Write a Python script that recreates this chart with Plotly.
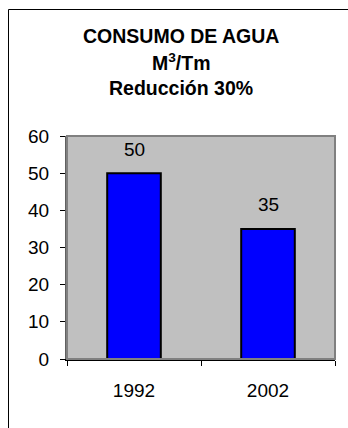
import plotly.graph_objects as go

categories = ["1992", "2002"]
values = [50, 35]
y_ticks = [0, 10, 20, 30, 40, 50, 60]
title_lines = ["<b>CONSUMO DE AGUA</b>", "<b>M<sup>3</sup>/Tm</b>", "<b>Reducción 30%</b>"]

FONT = "Arial, Liberation Sans, sans-serif"

W, H = 348, 428
L, R, T, B = 67, 335, 136, 359
pw, ph = R - L, B - T


def px_x(x):
    return (x - L) / pw


def px_y(y):
    return (B - y) / ph


fig = go.Figure()
fig.add_trace(go.Bar(
    x=categories, y=values,
    width=0.4,
    marker=dict(color="#0000FF", line=dict(color="#000000", width=2)),
    hoverinfo="skip",
))

annotations = []
for i, val in enumerate(values):
    annotations.append(dict(
        x=i, y=val, xref="x", yref="y", text=str(val), showarrow=False,
        yanchor="middle", yshift=24, font=dict(family=FONT, size=19, color="#000000"),
    ))

for line, ypx in zip(title_lines, [36, 62, 88]):
    annotations.append(dict(
        x=px_x(181), y=px_y(ypx), xref="paper", yref="paper", text=line,
        showarrow=False, xanchor="center", yanchor="middle",
        font=dict(family=FONT, size=19.5, color="#000000"),
    ))

shapes = [
    dict(type="rect", xref="paper", yref="paper", x0=0, y0=0, x1=1, y1=1,
         line=dict(color="#808080", width=2), layer="above"),
    dict(type="line", xref="paper", yref="paper",
         x0=px_x(8.5), y0=px_y(9.5), x1=px_x(8.5), y1=px_y(440),
         line=dict(color="#000000", width=1)),
    dict(type="line", xref="paper", yref="paper",
         x0=px_x(8.5), y0=px_y(9.5), x1=px_x(360), y1=px_y(9.5),
         line=dict(color="#000000", width=1)),
]

fig.update_layout(
    width=W, height=H,
    margin=dict(l=L, r=W - R, t=T, b=H - B, pad=0, autoexpand=False),
    paper_bgcolor="#FFFFFF",
    plot_bgcolor="#C0C0C0",
    showlegend=False,
    annotations=annotations,
    shapes=shapes,
    font=dict(family=FONT, size=19, color="#000000"),
    xaxis=dict(
        type="category", range=[-0.5, 1.5], tickson="boundaries",
        ticks="outside", ticklen=5, tickangle=0, automargin=False,
        tickcolor="#000000", tickwidth=1, showline=True, linecolor="#000000",
        linewidth=2, showgrid=False, zeroline=False,
        tickfont=dict(family=FONT, size=19, color="#000000"),
        ticklabelstandoff=13,
    ),
    yaxis=dict(
        range=[0, 60], tickvals=y_ticks, ticks="outside", ticklen=5,
        automargin=False,
        tickcolor="#000000", tickwidth=1, showline=True, linecolor="#606060",
        linewidth=2, showgrid=False, zeroline=False,
        tickfont=dict(family=FONT, size=19, color="#000000"),
        ticklabelstandoff=7,
    ),
)

fig.write_html(
    "out.html",
    config={"displayModeBar": False},
    post_script="document.body.style.margin='0';document.body.style.overflow='hidden';",
)
